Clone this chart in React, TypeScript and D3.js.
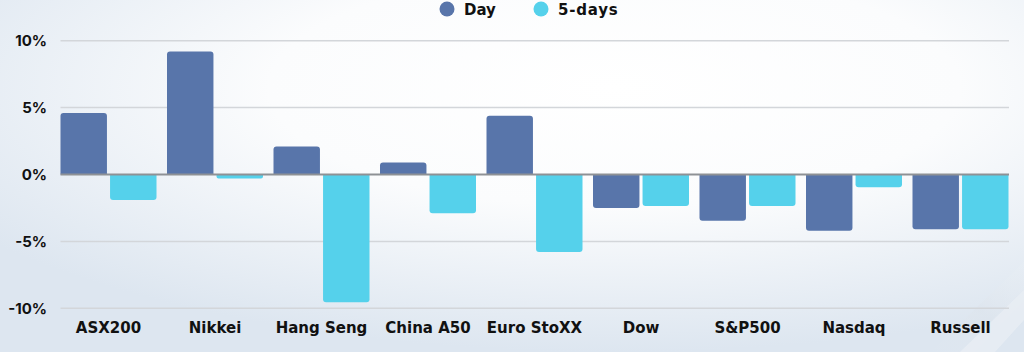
import React from "react";
import * as d3 from "d3";

const categories = ["ASX200", "Nikkei", "Hang Seng", "China A50", "Euro StoXX", "Dow", "S&P500", "Nasdaq", "Russell"];
const series = ["Day", "5-days"];
const dayValues = [4.6, 9.2, 2.1, 0.9, 4.4, -2.5, -3.45, -4.2, -4.1];
const fiveDayValues = [-1.9, -0.3, -9.55, -2.9, -5.8, -2.35, -2.35, -0.95, -4.1];
const yTicks = [10, 5, 0, -5, -10];
const colors = ["#5875aa", "#55d1eb"];

const W = 1024;
const H = 352;

function barPath(x: number, y0: number, y1: number, w: number, r: number) {
  const h = Math.abs(y1 - y0);
  const rr = Math.min(r, h / 2, w / 2);
  if (y1 < y0) {
    return `M${x},${y0}V${y1 + rr}Q${x},${y1} ${x + rr},${y1}H${x + w - rr}Q${x + w},${y1} ${x + w},${y1 + rr}V${y0}Z`;
  }
  return `M${x},${y0}V${y1 - rr}Q${x},${y1} ${x + rr},${y1}H${x + w - rr}Q${x + w},${y1} ${x + w},${y1 - rr}V${y0}Z`;
}

export default function App() {
  const left = 60.5;
  const step = 106.5;
  const right = left + step * categories.length;
  const x0 = d3.scaleBand<string>().domain(categories).range([left, right]).paddingInner(0).paddingOuter(0);
  const groupW = 96;
  const x1 = d3.scaleBand<string>().domain(series).range([0, groupW]).paddingInner(3 / 48);
  const y = d3.scaleLinear().domain([-10, 10]).range([308.3, 40.7]);
  const values = [dayValues, fiveDayValues];
  const tickFont = "Inter, 'Open Sans', sans-serif";
  const labelFont = "'DejaVu Sans', Inter, sans-serif";
  const plotRight = 1009;

  return (
    <svg width={W} height={H} style={{ position: "absolute", left: 0, top: 0, display: "block" }}>
      <defs>
        <radialGradient id="bg" cx="0.6" cy="0.25" r="0.75">
          <stop offset="0" stopColor="#ffffff" />
          <stop offset="0.45" stopColor="#fbfcfd" />
          <stop offset="1" stopColor="#dde6f0" />
        </radialGradient>
        <linearGradient id="streak" x1="0" y1="1" x2="1" y2="0">
          <stop offset="0" stopColor="#e4eaf1" stopOpacity="0" />
          <stop offset="0.5" stopColor="#dde4ec" stopOpacity="0.8" />
          <stop offset="1" stopColor="#eef2f6" stopOpacity="0.2" />
        </linearGradient>
      </defs>
      <rect x={0} y={0} width={W} height={H} fill="url(#bg)" />
      <path d="M930,352 L1024,262 L1024,300 L975,352 Z" fill="url(#streak)" opacity={0.7} />
      <path d="M960,352 L1024,290 L1024,320 L995,352 Z" fill="#e9eef4" opacity={0.8} />

      {yTicks.filter((t) => t !== 0).map((t) => (
        <line key={t} x1={left} x2={plotRight} y1={y(t)} y2={y(t)} stroke="#d3d6da" strokeWidth={1.5} />
      ))}

      {yTicks.map((t) => (
        <text key={t} x={47} y={y(t)} dy="0.35em" textAnchor="end" fontFamily={tickFont} fontSize={15} fontWeight={700} fill="#111">
          {`${t}%`}
        </text>
      ))}

      {categories.map((c, i) => (
        <g key={c}>
          {series.map((s, j) => {
            const v = values[j][i];
            const bx = (x0(c) as number) + (x1(s) as number);
            return <path key={s} d={barPath(bx, y(0), y(v), x1.bandwidth(), 3)} fill={colors[j]} />;
          })}
        </g>
      ))}

      <line x1={left} x2={plotRight} y1={y(0)} y2={y(0)} stroke="#8e9195" strokeWidth={2} />

      {categories.map((c) => (
        <text key={c} x={(x0(c) as number) + groupW / 2} y={328} dy="0.35em" textAnchor="middle" fontFamily={labelFont} fontSize={15} fontWeight={700} fill="#111">
          {c}
        </text>
      ))}

      <circle cx={447} cy={9} r={7.5} fill={colors[0]} />
      <text x={464} y={9.5} dy="0.35em" fontFamily={labelFont} fontSize={15} fontWeight={700} fill="#111">Day</text>
      <circle cx={541} cy={9} r={7.5} fill={colors[1]} />
      <text x={558} y={9.5} dy="0.35em" fontFamily={labelFont} fontSize={15} fontWeight={700} fill="#111" letterSpacing={0.8}>5-days</text>
    </svg>
  );
}
